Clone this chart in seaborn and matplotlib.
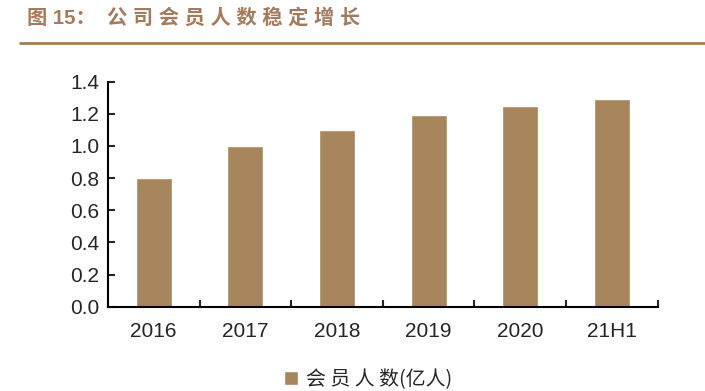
import pandas as pd
import matplotlib
matplotlib.use('Agg')
import matplotlib.pyplot as plt
import seaborn as sns
import numpy as np

# data
periods = ['2016', '2017', '2018', '2019', '2020', '21H1']
members = [0.80, 1.00, 1.10, 1.19, 1.25, 1.29]
yticks = [0.0, 0.2, 0.4, 0.6, 0.8, 1.0, 1.2, 1.4]
series_name = '会 员 人 数(亿人)'
title = '图 15：  公 司 会 员 人 数 稳 定 增 长'

bar_color = '#A7865E'
brown = '#A47B5D'

sns.set_style('white')
plt.rcParams['font.family'] = ['Liberation Sans', 'Noto Sans CJK SC', 'DejaVu Sans']

df = pd.DataFrame({'period': periods, 'value': members})

fig = plt.figure(figsize=(7.05, 3.91), dpi=100)
ax = fig.add_axes([0.153, 0.2156, 0.78, 0.5755])

sns.barplot(data=df, x='period', y='value', color=bar_color, width=0.39,
            saturation=1, ax=ax, label=series_name)
handles, labels = ax.get_legend_handles_labels()
if ax.get_legend() is not None:
    ax.get_legend().remove()

n = len(periods)
ax.set_xlim(-0.5, n - 0.5)
ax.set_ylim(0, 1.4)
ax.set_yticks(yticks)
ax.set_yticklabels([f'{v:.1f}' for v in yticks], fontsize=15)
# boundary ticks as major, category labels on minor ticks
ax.set_xticks(np.arange(-0.5, n), labels=[''] * (n + 1))
ax.set_xticks(np.arange(n), labels=periods, minor=True, fontsize=15)
ax.tick_params(axis='x', which='major', direction='in', length=5, width=1.5,
               bottom=True)
ax.tick_params(axis='x', which='minor', length=0, pad=11, bottom=True)
ax.tick_params(axis='y', direction='in', length=5, width=1.5, pad=6, left=True)
ax.set_xlabel('')
ax.set_ylabel('')
for s in ['top', 'right']:
    ax.spines[s].set_visible(False)
for s in ['left', 'bottom']:
    ax.spines[s].set_color('black')
    ax.spines[s].set_linewidth(1.5)

# legend below the axes
fig.legend(handles, labels, loc='center', bbox_to_anchor=(0.522, 0.03),
           frameon=False, handlelength=0.7, handleheight=0.7,
           handletextpad=0.4,
           prop={'family': ['Noto Sans CJK SC'], 'size': 14.3})

# title and rule
fig.text(0.039, 0.955, title, fontsize=14.6, fontweight='bold', color=brown,
         family=['Liberation Sans', 'Noto Sans CJK SC'], va='center', ha='left')
fig.add_artist(plt.Line2D([0.029, 1.0], [0.891, 0.891], color=brown,
                          linewidth=2, transform=fig.transFigure))

fig.savefig('out.png', dpi=100)
